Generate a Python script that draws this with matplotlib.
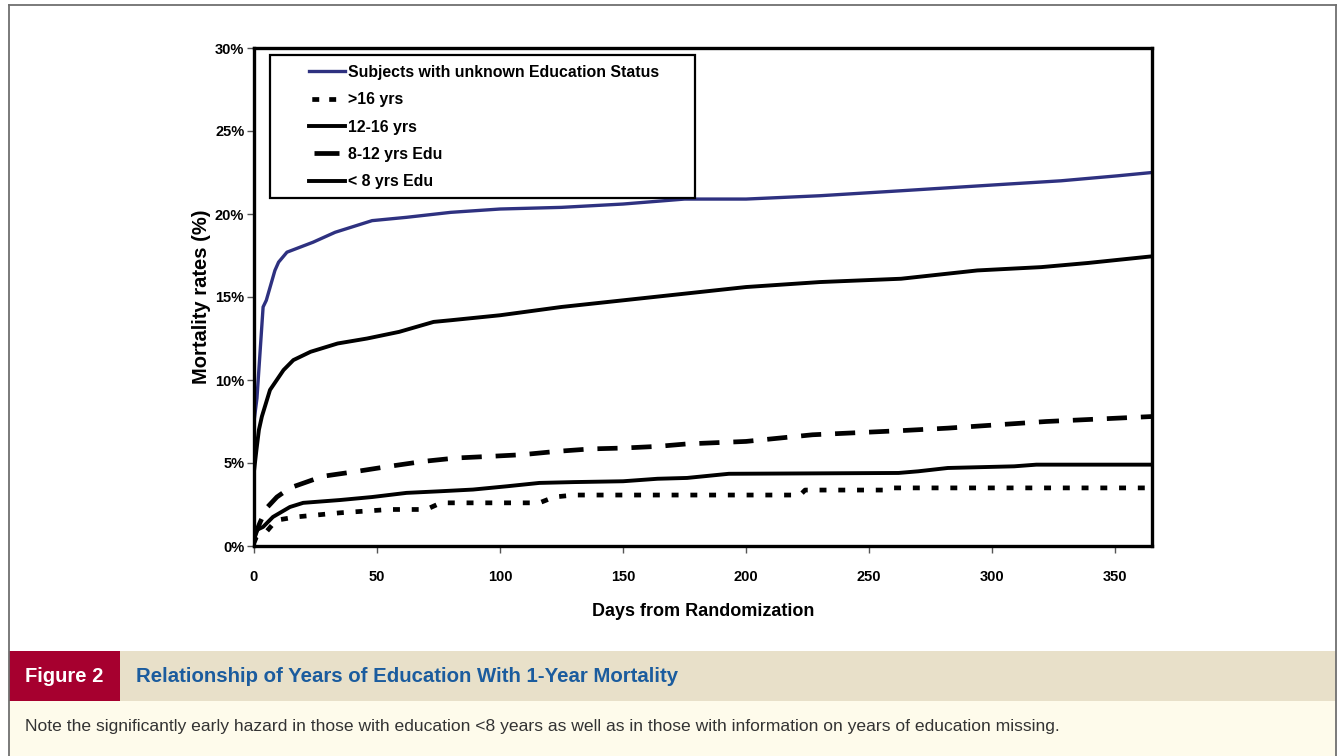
"""Figure 2 recreation: 1-year mortality by years of education."""

import matplotlib

matplotlib.use("Agg")
import matplotlib.pyplot as plt
from matplotlib.lines import Line2D
from matplotlib.patches import Rectangle
from matplotlib.ticker import FuncFormatter

# ---- data (days, cumulative mortality %) ----
unknown_days = [0, 1.2, 3.7, 5, 8.5, 10, 13.4, 24, 33, 48, 62, 80, 100, 125,
                150, 175, 200, 230, 263, 306, 328, 351, 365]
unknown_vals = [7.5, 8.9, 14.4, 14.8, 16.6, 17.1, 17.7, 18.3, 18.9, 19.6, 19.8,
                20.1, 20.3, 20.4, 20.6, 20.9, 20.9, 21.1, 21.4, 21.8, 22.0,
                22.3, 22.5]

lt8_days = [0, 1, 2, 3.2, 6.5, 12, 16, 23, 34, 46, 59, 73, 80, 100, 125, 150,
            175, 200, 230, 263, 294, 320, 339, 365]
lt8_vals = [4.5, 5.8, 7.0, 7.8, 9.4, 10.6, 11.2, 11.7, 12.2, 12.5, 12.9, 13.5,
            13.6, 13.9, 14.4, 14.8, 15.2, 15.6, 15.9, 16.1, 16.6, 16.8, 17.05,
            17.45]

edu8_12_days = [0, 2.4, 5.2, 9.3, 14.6, 28, 42, 55, 69, 82, 96, 109, 123, 137,
                150, 164, 176, 200, 227, 263, 282, 322, 365]
edu8_12_vals = [0.5, 1.4, 2.3, 2.95, 3.5, 4.2, 4.5, 4.8, 5.1, 5.3, 5.4, 5.5,
                5.7, 5.85, 5.9, 6.0, 6.15, 6.3, 6.7, 6.95, 7.1, 7.5, 7.8]

yrs12_16_days = [0, 1, 3.7, 7.7, 14.6, 20, 35, 48, 62, 76, 89, 103, 116, 130,
                 150, 164, 176, 193, 262, 270, 282, 309, 318, 365]
yrs12_16_vals = [0.3, 0.96, 1.15, 1.75, 2.35, 2.6, 2.77, 2.95, 3.2, 3.3, 3.4,
                 3.6, 3.8, 3.85, 3.9, 4.05, 4.1, 4.35, 4.4, 4.5, 4.7, 4.8,
                 4.9, 4.9]

gt16_days = [0, 1, 5, 9, 17, 35, 55, 70, 76, 116, 122, 130, 222, 224, 257,
             259, 365]
gt16_vals = [0.2, 0.55, 0.85, 1.55, 1.75, 2.0, 2.2, 2.2, 2.6, 2.6, 2.95, 3.07,
             3.07, 3.37, 3.37, 3.5, 3.5]

series_labels = ["Subjects with unknown Education Status", ">16 yrs",
                 "12-16 yrs", "8-12 yrs Edu", "< 8 yrs Edu"]
x_ticks = [0, 50, 100, 150, 200, 250, 300, 350]
y_ticks = [0, 5, 10, 15, 20, 25, 30]

caption_tag = "Figure 2"
caption_title = "Relationship of Years of Education With 1-Year Mortality"
caption_note = ("Note the significantly early hazard in those with education <8 years "
                "as well as in those with information on years of education missing.")

W, H = 1341, 756
plt.rcParams["font.family"] = ["Liberation Sans", "DejaVu Sans"]
plt.rcParams["lines.scale_dashes"] = False


def fx(px):
    return px / W


def fy(py):
    return 1 - py / H


fig = plt.figure(figsize=(W / 100, H / 100), dpi=100)
ax = fig.add_axes([fx(254), fy(546), fx(1152) - fx(254), fy(48) - fy(546)])

navy = "#2E3180"
dot_ls = (0, (5, 8.5))
dash_ls = (0, (14.5, 10))
ax.plot(unknown_days, unknown_vals, color=navy, lw=2.4)
ax.plot(gt16_days, gt16_vals, color="black", lw=3.4, ls=dot_ls, dash_capstyle="butt")
ax.plot(yrs12_16_days, yrs12_16_vals, color="black", lw=2.8)
ax.plot(edu8_12_days, edu8_12_vals, color="black", lw=3.4, ls=dash_ls,
        dash_capstyle="butt")
ax.plot(lt8_days, lt8_vals, color="black", lw=2.8)

ax.set_xlim(0, 365)
ax.set_ylim(0, 30)
ax.set_xticks(x_ticks)
ax.set_yticks(y_ticks)
ax.yaxis.set_major_formatter(FuncFormatter(lambda v, _: f"{v:.0f}%"))
ax.tick_params(direction="out", length=5, width=1, color="#555555",
               labelsize=10.5)
ax.tick_params(axis="x", pad=12)
ax.tick_params(axis="y", pad=2)
for lab in ax.get_xticklabels() + ax.get_yticklabels():
    lab.set_fontweight("bold")
for sp in ax.spines.values():
    sp.set_linewidth(2.4)
    sp.set_color("black")

ax.set_xlabel("Days from Randomization", fontsize=13, fontweight="bold", labelpad=14)
ax.set_ylabel("Mortality rates (%)", fontsize=14.5, fontweight="bold", labelpad=3)

# legend: box drawn separately so the padding matches the original,
# proxy handles so the dotted/dashed samples sit like the printed ones
box = Rectangle((fx(270), fy(198)), fx(695) - fx(270), fy(55) - fy(198),
                transform=fig.transFigure, facecolor="white", edgecolor="black",
                lw=1.6, zorder=4.5)
ax.add_patch(box)
proxies = [
    Line2D([], [], color=navy, lw=2.4),
    Line2D([], [], color="black", lw=3.4, ls=(10.2, (5, 7.2)), dash_capstyle="butt"),
    Line2D([], [], color="black", lw=2.8),
    Line2D([], [], color="black", lw=3.4, ls=(114.4, (18, 100)), dash_capstyle="butt"),
    Line2D([], [], color="black", lw=2.8),
]
leg = ax.legend(proxies, series_labels,
                loc="upper left", bbox_to_anchor=(fx(301), fy(57)),
                bbox_transform=fig.transFigure, frameon=False,
                prop={"weight": "bold", "size": 11.4}, handlelength=2.3,
                handletextpad=0.15, labelspacing=0.78, borderpad=0)
leg.set_zorder(6)

# outer frame + caption band
frame_c = "#707070"
fig.add_artist(Line2D([fx(9), fx(9)], [0, fy(5)], color=frame_c, lw=1.3))
fig.add_artist(Line2D([fx(1336), fx(1336)], [0, fy(5)], color=frame_c, lw=1.3))
fig.add_artist(Line2D([fx(9), fx(1336)], [fy(5), fy(5)], color=frame_c, lw=1.3))
fig.add_artist(Rectangle((fx(9), fy(701)), fx(1336) - fx(9), fy(651) - fy(701),
                         transform=fig.transFigure, color="#E8E0C9", lw=0))
fig.add_artist(Rectangle((fx(9), fy(701)), fx(120) - fx(9), fy(651) - fy(701),
                         transform=fig.transFigure, color="#A6002F", lw=0))
fig.add_artist(Rectangle((fx(9), 0), fx(1336) - fx(9), fy(701),
                         transform=fig.transFigure, color="#FEFBEB", lw=0))

fig.text(fx(25), fy(677), caption_tag, color="white", fontsize=14.5,
         fontweight="bold", va="center", ha="left")
fig.text(fx(136), fy(677), caption_title, color="#1B5C9E", fontsize=14.7,
         fontweight="bold", va="center", ha="left")
fig.text(fx(25), fy(727), caption_note, color="#333333", fontsize=12.6,
         va="center", ha="left")

fig.savefig("out.png", dpi=100, facecolor="white")
